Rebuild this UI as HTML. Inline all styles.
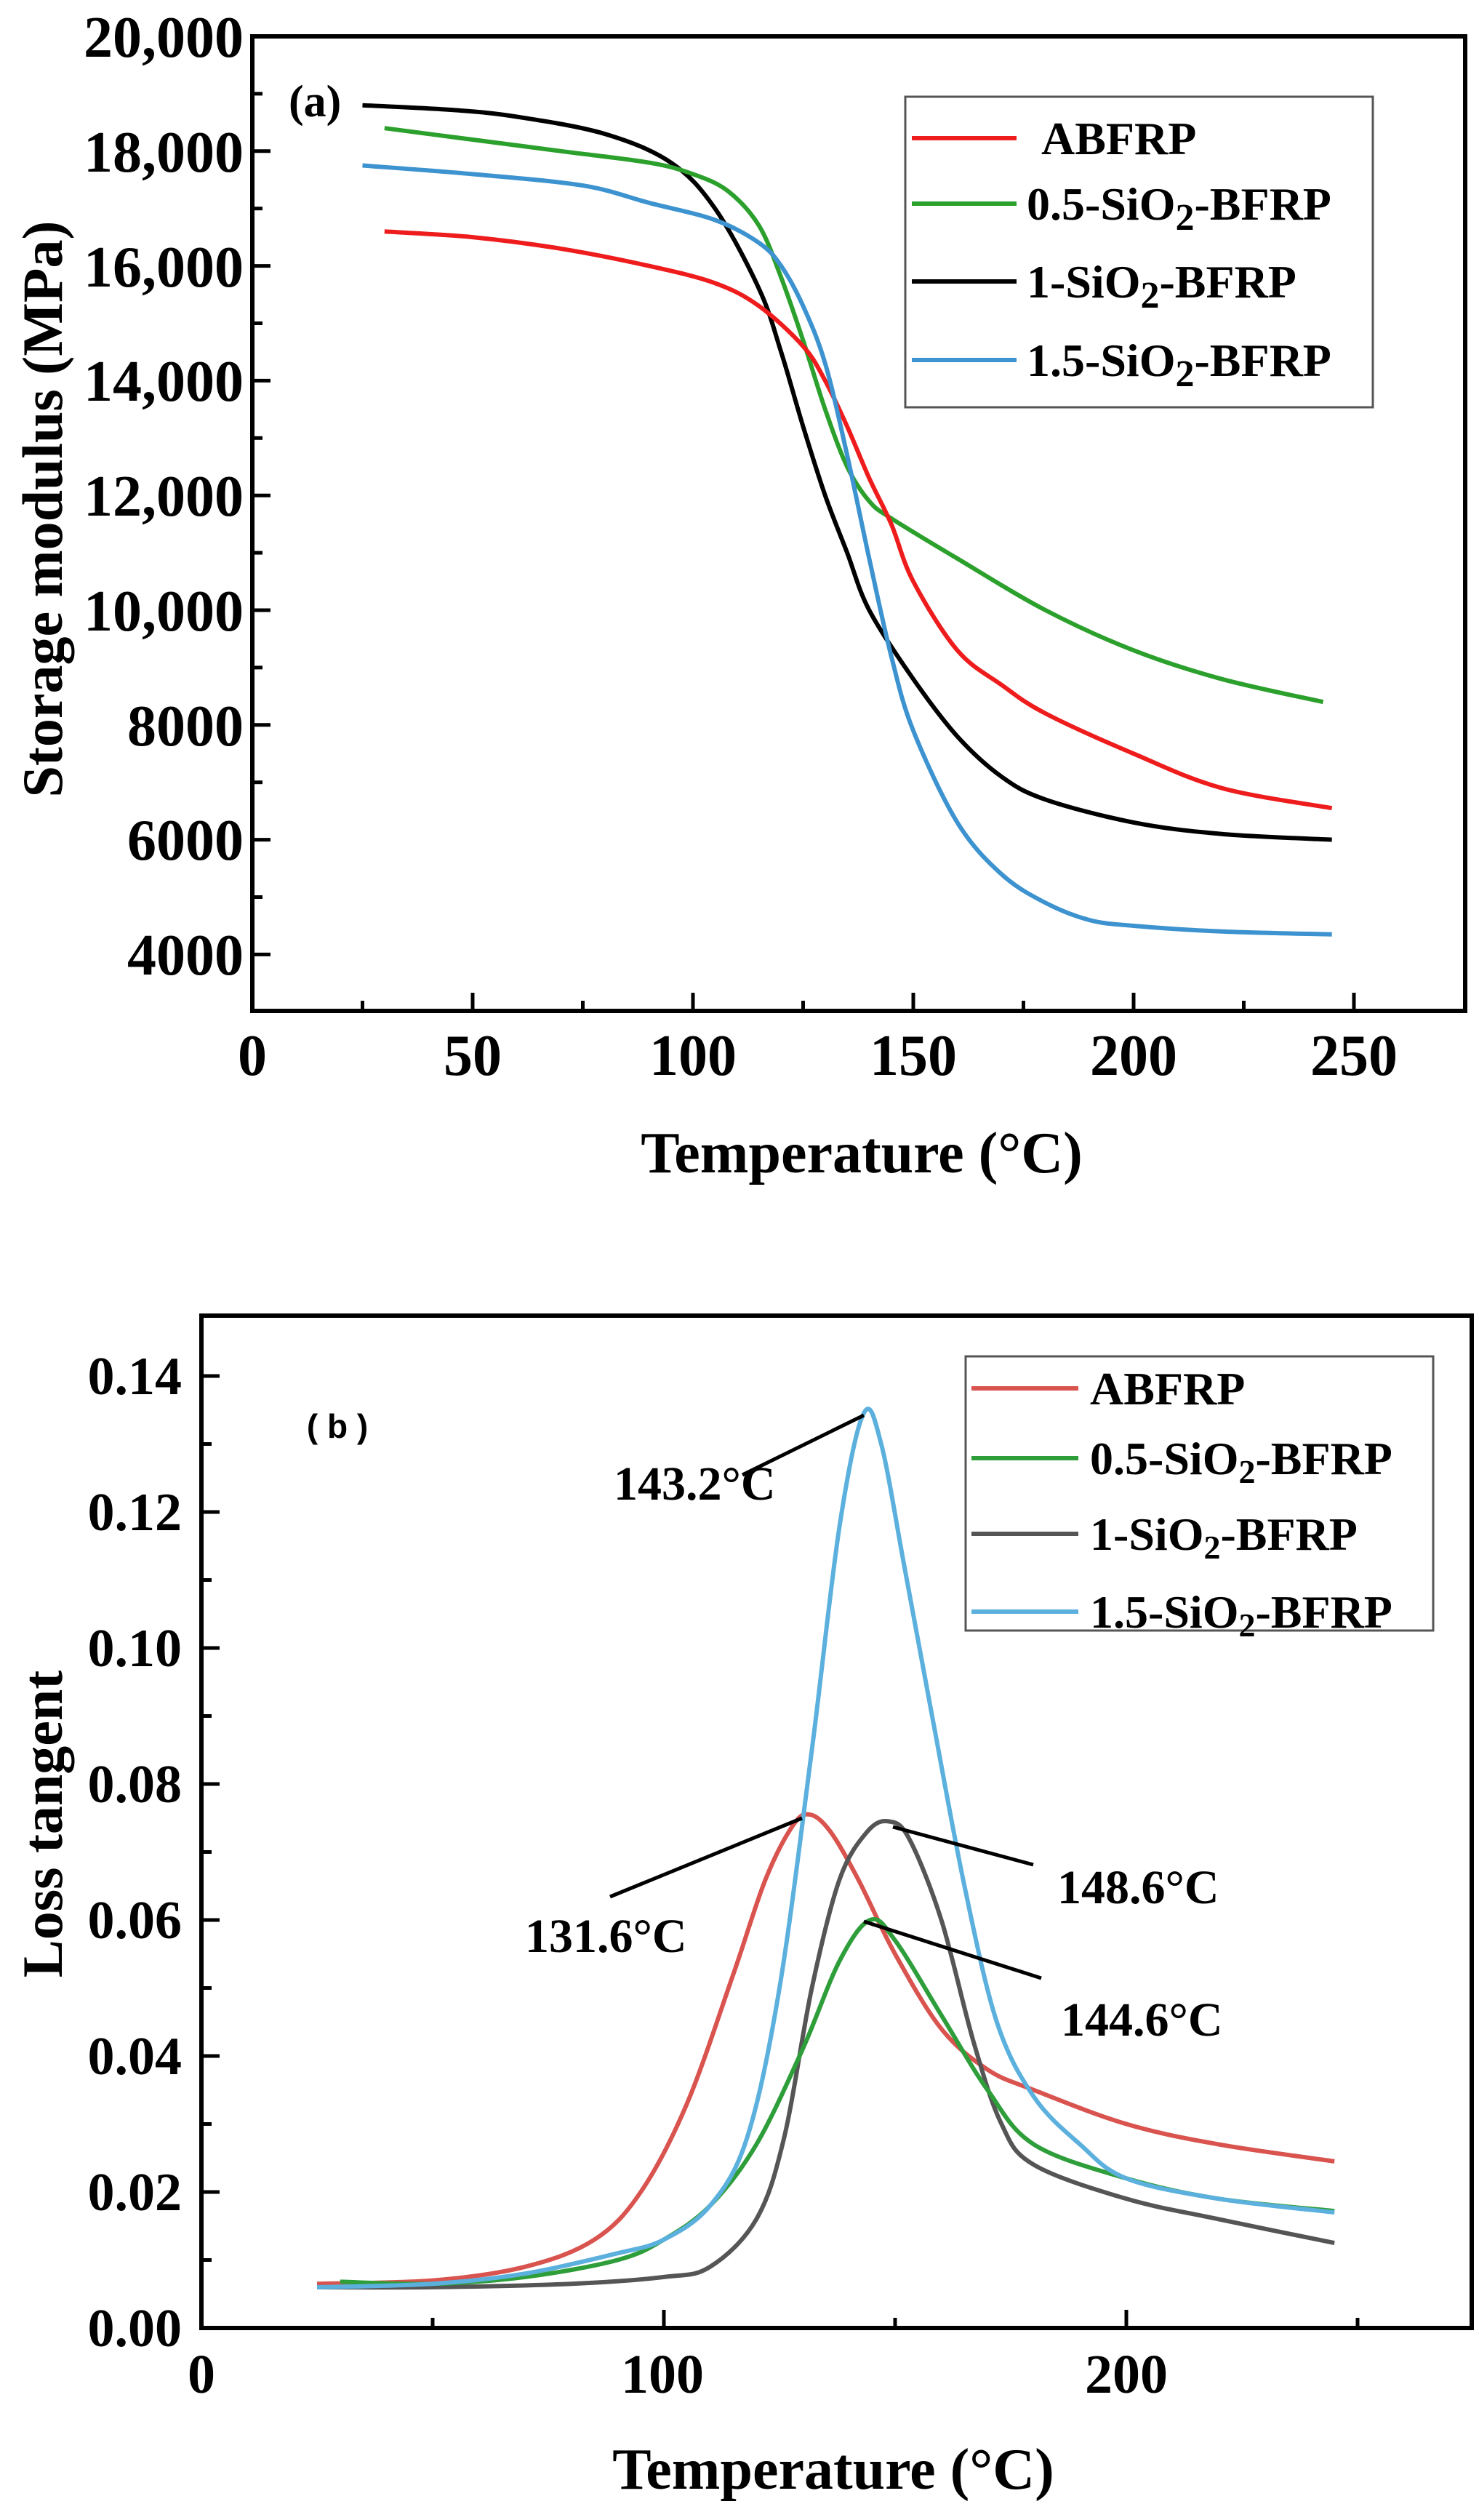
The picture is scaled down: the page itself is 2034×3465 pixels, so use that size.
<!DOCTYPE html>
<html><head><meta charset="utf-8"><style>
html,body{margin:0;padding:0;background:#fff}
svg{display:block}
text{font-family:"Liberation Serif",serif;font-weight:bold;fill:#000}
</style></head><body>
<svg id="s" width="2034" height="3465" viewBox="0 0 2034 3465" xmlns="http://www.w3.org/2000/svg">
<rect width="2034" height="3465" fill="#fff"/>
<!-- Panel a frame -->
<rect x="347" y="50" width="1668" height="1340" fill="none" stroke="#000" stroke-width="6"/>
<g id="ta"></g>
<g font-size="80" text-anchor="end">
<text x="335" y="78">20,000</text>
<text x="335" y="236">18,000</text>
<text x="335" y="394">16,000</text>
<text x="335" y="551">14,000</text>
<text x="335" y="709">12,000</text>
<text x="335" y="867">10,000</text>
<text x="335" y="1025">8000</text>
<text x="335" y="1182">6000</text>
<text x="335" y="1340">4000</text>
</g>
<g font-size="80" text-anchor="middle">
<text x="347" y="1478">0</text>
<text x="650" y="1478">50</text>
<text x="953" y="1478">100</text>
<text x="1256" y="1478">150</text>
<text x="1559" y="1478">200</text>
<text x="1862" y="1478">250</text>
</g>
<text x="1185" y="1612" font-size="80" text-anchor="middle">Temperature (°C)</text>
<text transform="translate(85,700) rotate(-90)" font-size="78" text-anchor="middle">Storage modulus (MPa)</text>
<text x="397" y="160" font-size="62">(a)</text>
<g id="ca"></g>
<rect x="1245" y="133" width="643" height="427" fill="#fff" stroke="#555" stroke-width="3"/>
<g stroke-width="6">
<line x1="1254" y1="190" x2="1398" y2="190" stroke="#ee1c1c"/>
<line x1="1254" y1="280" x2="1398" y2="280" stroke="#2ca02c"/>
<line x1="1254" y1="387" x2="1398" y2="387" stroke="#000"/>
<line x1="1254" y1="495" x2="1398" y2="495" stroke="#3d93cf"/>
</g>
<g font-size="64">
<text x="1432" y="212">ABFRP</text>
<text x="1412" y="302">0.5-SiO<tspan font-size="52" dy="14">2</tspan><tspan dy="-14">-BFRP</tspan></text>
<text x="1412" y="409">1-SiO<tspan font-size="52" dy="14">2</tspan><tspan dy="-14">-BFRP</tspan></text>
<text x="1412" y="517">1.5-SiO<tspan font-size="52" dy="14">2</tspan><tspan dy="-14">-BFRP</tspan></text>
</g>

<!-- Panel b frame -->
<rect x="277" y="1809" width="1747" height="1392" fill="none" stroke="#000" stroke-width="6"/>
<g id="tb"></g>
<g font-size="74" text-anchor="end">
<text x="250" y="3226">0.00</text>
<text x="250" y="3039">0.02</text>
<text x="250" y="2852">0.04</text>
<text x="250" y="2665">0.06</text>
<text x="250" y="2478">0.08</text>
<text x="250" y="2291">0.10</text>
<text x="250" y="2104">0.12</text>
<text x="250" y="1917">0.14</text>
</g>
<g font-size="76" text-anchor="middle">
<text x="277" y="3290">0</text>
<text x="911" y="3290">100</text>
<text x="1549" y="3290">200</text>
</g>
<text x="1146" y="3422" font-size="80" text-anchor="middle">Temperature (°C)</text>
<text transform="translate(85,2508) rotate(-90)" font-size="78" text-anchor="middle">Loss tangent</text>
<text x="464" y="1977" font-size="46" text-anchor="middle" style="font-family:'Liberation Sans',sans-serif" xml:space="preserve">( b )</text>
<g id="cb"></g>
<g stroke="#000" stroke-width="5">
<line x1="1021" y1="2028" x2="1188" y2="1946"/>
<line x1="839" y1="2608" x2="1103" y2="2500"/>
<line x1="1228" y1="2512" x2="1421" y2="2564"/>
<line x1="1188" y1="2642" x2="1432" y2="2720"/>
</g>
<g font-size="66">
<text x="844" y="2062">143.2°C</text>
<text x="722" y="2684">131.6°C</text>
<text x="1454" y="2617">148.6°C</text>
<text x="1459" y="2799">144.6°C</text>
</g>
<rect x="1328" y="1865" width="643" height="377" fill="#fff" stroke="#555" stroke-width="3"/>
<g stroke-width="6">
<line x1="1336" y1="1909" x2="1483" y2="1909" stroke="#d9534f"/>
<line x1="1336" y1="2005" x2="1483" y2="2005" stroke="#2e9e3a"/>
<line x1="1336" y1="2109" x2="1483" y2="2109" stroke="#555"/>
<line x1="1336" y1="2216" x2="1483" y2="2216" stroke="#5bb0dd"/>
</g>
<g font-size="64">
<text x="1499" y="1931">ABFRP</text>
<text x="1499" y="2027">0.5-SiO<tspan font-size="46" dy="12">2</tspan><tspan dy="-12">-BFRP</tspan></text>
<text x="1499" y="2131">1-SiO<tspan font-size="46" dy="12">2</tspan><tspan dy="-12">-BFRP</tspan></text>
<text x="1499" y="2238">1.5-SiO<tspan font-size="46" dy="12">2</tspan><tspan dy="-12">-BFRP</tspan></text>
</g>
</svg>
<script>
var NS="http://www.w3.org/2000/svg";
function el(g,n,a){var e=document.createElementNS(NS,n);for(var k in a)e.setAttribute(k,a[k]);document.getElementById(g).appendChild(e);}
function path(pts){var d="M"+pts[0][0].toFixed(1)+","+pts[0][1].toFixed(1);
for(var i=0;i<pts.length-1;i++){var p0=pts[i>0?i-1:i],p1=pts[i],p2=pts[i+1],p3=pts[i+2<pts.length?i+2:i+1];
var c1x=p1[0]+(p2[0]-p0[0])/6,c1y=p1[1]+(p2[1]-p0[1])/6,c2x=p2[0]-(p3[0]-p1[0])/6,c2y=p2[1]-(p3[1]-p1[1])/6;
d+=" C"+c1x.toFixed(1)+","+c1y.toFixed(1)+" "+c2x.toFixed(1)+","+c2y.toFixed(1)+" "+p2[0].toFixed(1)+","+p2[1].toFixed(1);}return d;}
// panel a
function ax(t){return 347+6.06*t} function ay(e){return 50+(20000-e)*0.0789}
for(var v=3000;v<=20000;v+=1000){var y=ay(v);if(y<52||y>1388)continue;el("ta","line",{x1:347,y1:y,x2:347+(v%2000==0?25:14),y2:y,stroke:"#000","stroke-width":5});}
for(var t=25;t<=250;t+=25){var x=ax(t);el("ta","line",{x1:x,y1:1390,x2:x,y2:1390-(t%50==0?25:14),stroke:"#000","stroke-width":5});}
var A={
"#000":[[25,18800],[45,18720],[60,18600],[80,18300],[95,17800],[105,17000],[115,15600],[120,14500],[125,13200],[130,12000],[135,11000],[140,10000],[150,8800],[160,7800],[170,7100],[180,6700],[200,6300],[220,6100],[245,6000]],
"#2ca02c":[[30,18400],[50,18200],[70,18000],[90,17800],[100,17600],[108,17300],[115,16700],[120,15800],[125,14700],[130,13500],[135,12500],[140,11900],[145,11600],[160,10900],[180,10000],[200,9300],[220,8800],[243,8400]],
"#ee1c1c":[[30,16600],[50,16500],[70,16300],[90,16000],[105,15700],[115,15300],[125,14600],[130,14000],[135,13200],[140,12300],[145,11500],[150,10500],[160,9300],[170,8700],[180,8200],[200,7500],[220,6900],[245,6550]],
"#3d93cf":[[25,17750],[50,17600],[75,17400],[90,17100],[105,16800],[115,16400],[120,16000],[125,15300],[130,14300],[135,12700],[140,10900],[145,9200],[150,7900],[160,6300],[170,5400],[180,4900],[190,4600],[200,4500],[220,4400],[245,4350]]};
for(var c in A){el("ca","path",{d:path(A[c].map(function(p){return[ax(p[0]),ay(p[1])]})),fill:"none",stroke:c,"stroke-width":6});}
// panel b
function bx(t){return 277+6.36*t} function by(v){return 3201-9350*v}
for(var i=1;i<=14;i++){var v=i*0.01,y=by(v);el("tb","line",{x1:277,y1:y,x2:277+(i%2==0?25:14),y2:y,stroke:"#000","stroke-width":5});}
for(var t=50;t<=250;t+=50){var x=bx(t);el("tb","line",{x1:x,y1:3201,x2:x,y2:3201-(t%100==0?25:14),stroke:"#000","stroke-width":5});}
var B={
"#d9534f":[[25,.0065],[50,.007],[70,.009],[85,.013],[95,.02],[105,.033],[115,.052],[122,.066],[128,.074],[131.6,.0755],[136,.073],[142,.066],[150,.055],[160,.044],[170,.038],[180,.035],[200,.03],[220,.027],[245,.0245]],
"#555":[[25,.006],[50,.006],[80,.0065],[100,.0075],[110,.009],[120,.016],[126,.028],[132,.05],[138,.066],[144,.073],[148.6,.0745],[153,.072],[160,.06],[167,.042],[173,.03],[180,.024],[200,.019],[220,.016],[245,.0125]],
"#2e9e3a":[[30,.0068],[50,.0065],[70,.0075],[90,.010],[100,.013],[110,.018],[120,.027],[130,.041],[138,.054],[144.6,.060],[150,.057],[160,.046],[170,.035],[180,.027],[200,.022],[220,.019],[245,.0172]],
"#5bb0dd":[[25,.006],[50,.0065],[70,.008],[90,.011],[100,.013],[110,.018],[118,.028],[125,.05],[132,.085],[138,.118],[143.2,.1345],[147,.13],[152,.112],[158,.09],[165,.065],[172,.045],[180,.034],[190,.027],[200,.022],[220,.019],[245,.017]]};
for(var c in B){el("cb","path",{d:path(B[c].map(function(p){return[bx(p[0]),by(p[1])]})),fill:"none",stroke:c,"stroke-width":6});}
</script>
</body></html>
